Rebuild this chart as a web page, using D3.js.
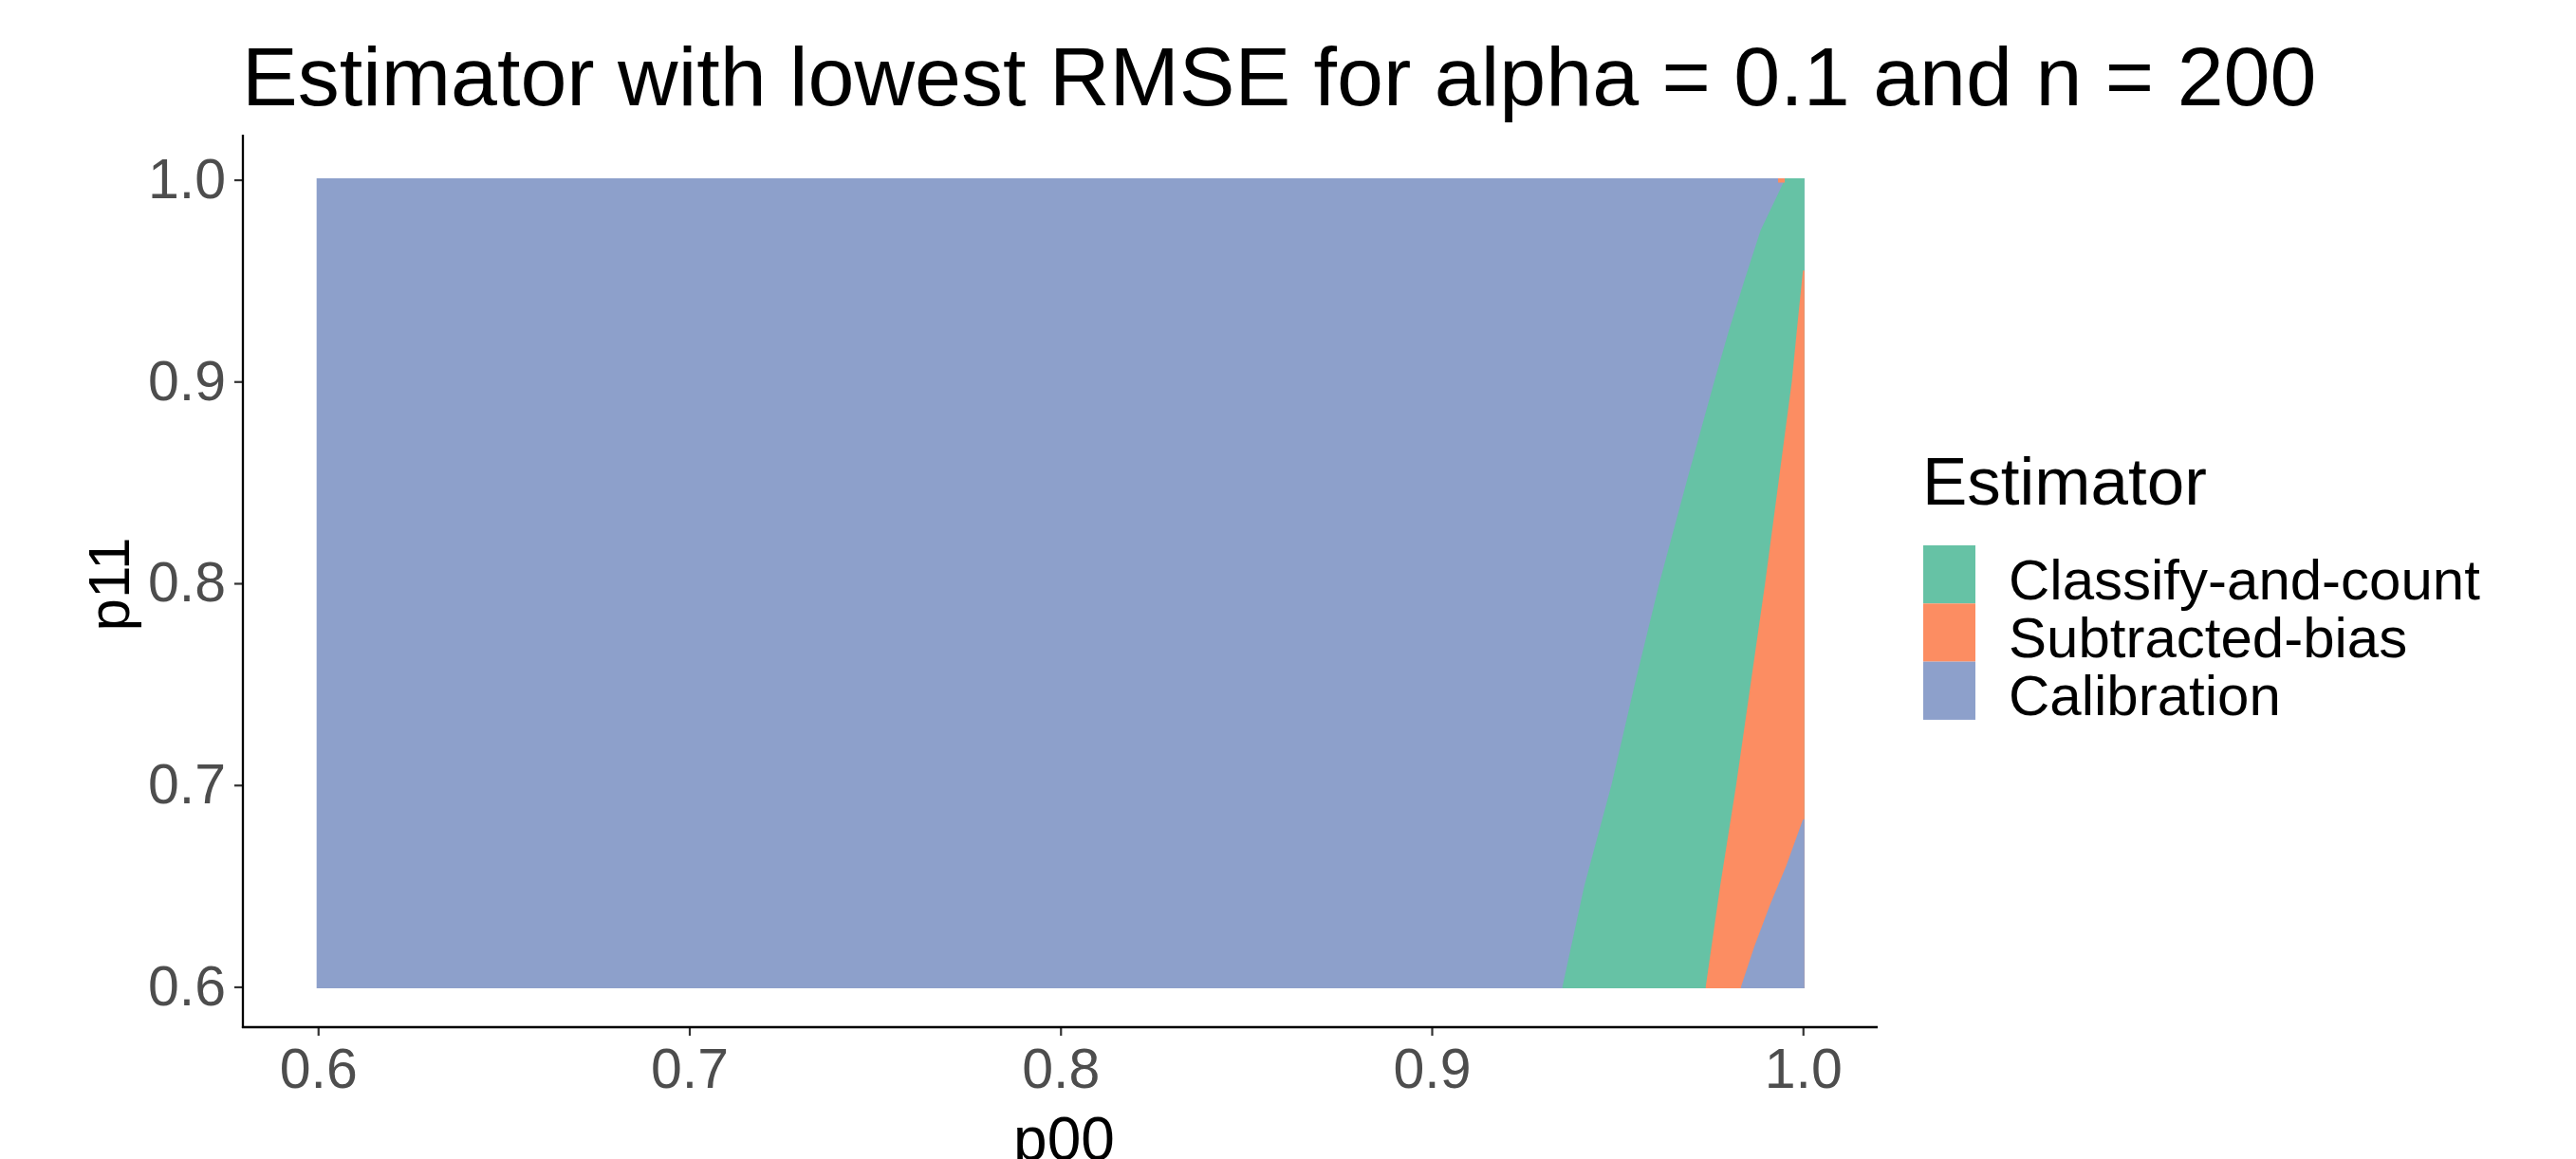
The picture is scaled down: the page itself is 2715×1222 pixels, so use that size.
<!DOCTYPE html>
<html>
<head>
<meta charset="utf-8">
<script src="https://cdn.jsdelivr.net/npm/d3@7"></script>
<style>
  html, body { margin: 0; padding: 0; background: #ffffff; }
  svg { display: block; }
  text { font-family: "Liberation Sans", Arial, "Helvetica", sans-serif; }
</style>
</head>
<body>
<svg id="chart" width="2715" height="1222"></svg>
<script>
// ---------------- data ----------------
const estimators = ["Classify-and-count", "Subtracted-bias", "Calibration"];
const estimatorColors = ["#66C2A5", "#FC8D62", "#8DA0CB"];

// grid extent of the p00 x p11 raster
const p00Range = [0.6, 1.0];
const p11Range = [0.6, 1.0];
const tileHalfP00 = 0.0004;   // half width of a raster cell
const tileHalfP11 = 0.0007;   // half height of a raster cell

// boundary Calibration | Classify-and-count (left edge of green)
const boundaryA_p11 = [0.60, 0.65, 0.70, 0.75, 0.80, 0.85, 0.90, 0.925, 0.95, 0.975, 1.00];
const boundaryA_p00 = [0.9352, 0.9411, 0.9484, 0.9547, 0.9613, 0.9686, 0.9761, 0.9800, 0.9842, 0.9886, 0.9951];

// boundary Classify-and-count | Subtracted-bias (left edge of orange)
const boundaryB_p11 = [0.60, 0.65, 0.70, 0.75, 0.80, 0.85, 0.90, 0.93, 0.955];
const boundaryB_p00 = [0.9738, 0.9777, 0.9820, 0.9859, 0.9898, 0.9934, 0.9970, 0.9986, 1.0];

// boundary Subtracted-bias | Calibration (lower right corner)
const boundaryC_p11 = [0.60, 0.62, 0.64, 0.66, 0.683];
const boundaryC_p00 = [0.9833, 0.9869, 0.9910, 0.9955, 1.0];

// single Subtracted-bias cell in the top row
const speckP00 = [0.9933, 0.9951];
const speckP11 = [0.9986, 1.0];

const xTicks = [0.6, 0.7, 0.8, 0.9, 1.0];
const yTicks = [0.6, 0.7, 0.8, 0.9, 1.0];

const titleText = "Estimator with lowest RMSE for alpha = 0.1 and n = 200";
const xTitle = "p00";
const yTitle = "p11";
const legendTitle = "Estimator";

// ---------------- layout ----------------
const svg = d3.select("#chart");
const panel = { left: 256, right: 1979, top: 143, bottom: 1083 };

const expandX = (p00Range[1] - p00Range[0]) * 0.05;
const expandY = (p11Range[1] - p11Range[0]) * 0.05;
const x = d3.scaleLinear()
  .domain([p00Range[0] - expandX, p00Range[1] + expandX])
  .range([panel.left + 1, panel.right - 0.5]);
const y = d3.scaleLinear()
  .domain([p11Range[0] - expandY, p11Range[1] + expandY])
  .range([panel.bottom, panel.top + 4]);

const line = d3.line().x(d => x(d[0])).y(d => y(d[1]));

function regionToRight(p00s, p11s, topExtend) {
  // polygon bounded on the left by the boundary and on the right by p00 = 1
  const pts = [];
  const n = p00s.length;
  pts.push([p00s[0], p11Range[0] - tileHalfP11]);
  for (let i = 0; i < n; i++) pts.push([p00s[i], p11s[i]]);
  if (topExtend) pts.push([p00s[n - 1], p11Range[1] + tileHalfP11]);
  const topP11 = topExtend ? p11Range[1] + tileHalfP11 : p11s[n - 1];
  pts.push([p00Range[1] + tileHalfP00, topP11]);
  pts.push([p00Range[1] + tileHalfP00, p11Range[0] - tileHalfP11]);
  return pts;
}

const plot = svg.append("g");

// Calibration background (whole grid)
const bg = [
  [p00Range[0] - tileHalfP00, p11Range[0] - tileHalfP11],
  [p00Range[0] - tileHalfP00, p11Range[1] + tileHalfP11],
  [p00Range[1] + tileHalfP00, p11Range[1] + tileHalfP11],
  [p00Range[1] + tileHalfP00, p11Range[0] - tileHalfP11]
];
plot.append("path").attr("d", line(bg) + "Z").attr("fill", estimatorColors[2]);

// Classify-and-count
plot.append("path")
  .attr("d", line(regionToRight(boundaryA_p00, boundaryA_p11, true)) + "Z")
  .attr("fill", estimatorColors[0]);

// Subtracted-bias
plot.append("path")
  .attr("d", line(regionToRight(boundaryB_p00, boundaryB_p11, false)) + "Z")
  .attr("fill", estimatorColors[1]);

// Calibration (lower right)
plot.append("path")
  .attr("d", line(regionToRight(boundaryC_p00, boundaryC_p11, false)) + "Z")
  .attr("fill", estimatorColors[2]);

// speck
plot.append("rect")
  .attr("x", x(speckP00[0]))
  .attr("y", y(speckP11[1] + tileHalfP11))
  .attr("width", x(speckP00[1]) - x(speckP00[0]))
  .attr("height", y(speckP11[0]) - y(speckP11[1] + tileHalfP11))
  .attr("fill", estimatorColors[1]);

// ---------------- axes ----------------
const fmt = d3.format(".1f");
const xAxis = svg.append("g")
  .attr("transform", `translate(0,${panel.bottom})`)
  .call(d3.axisBottom(x).tickValues(xTicks).tickFormat(fmt).tickSize(9).tickSizeOuter(0).tickPadding(13));
const yAxis = svg.append("g")
  .attr("transform", `translate(${panel.left},0)`)
  .call(d3.axisLeft(y).tickValues(yTicks).tickFormat(fmt).tickSize(9).tickSizeOuter(0).tickPadding(9));

[xAxis, yAxis].forEach(a => {
  a.select(".domain").remove();
  a.selectAll(".tick line").attr("stroke", "#333333").attr("stroke-width", 2.2);
  a.selectAll(".tick text")
    .attr("fill", "#4d4d4d")
    .style("font-size", "59px")
    .style("font-family", "'Liberation Sans', Arial, sans-serif");
});

// axis lines
svg.append("line")
  .attr("x1", panel.left).attr("x2", panel.left)
  .attr("y1", panel.top - 1).attr("y2", panel.bottom + 1.1)
  .attr("stroke", "#000").attr("stroke-width", 2.3);
svg.append("line")
  .attr("x1", panel.left - 1.1).attr("x2", panel.right)
  .attr("y1", panel.bottom).attr("y2", panel.bottom)
  .attr("stroke", "#000").attr("stroke-width", 2.3);

// ---------------- titles ----------------
svg.append("text")
  .attr("x", panel.left - 1)
  .attr("y", 111)
  .style("font-size", "88px")
  .attr("fill", "#000")
  .text(titleText);

svg.append("text")
  .attr("x", (panel.left + panel.right) / 2 + 4)
  .attr("y", 1223)
  .attr("text-anchor", "middle")
  .style("font-size", "64px")
  .attr("fill", "#000")
  .text(xTitle);

svg.append("text")
  .attr("transform", `translate(136,${(panel.top + panel.bottom) / 2 + 3}) rotate(-90)`)
  .attr("text-anchor", "middle")
  .style("font-size", "62px")
  .attr("fill", "#000")
  .text(yTitle);

// ---------------- legend ----------------
const legend = svg.append("g").attr("transform", "translate(2027,0)");
legend.append("text")
  .attr("x", -1)
  .attr("y", 532)
  .style("font-size", "71px")
  .attr("fill", "#000")
  .text(legendTitle);

const keyTop = 575, keyH = 61.3, keyW = 55;
const items = legend.selectAll("g.item").data(estimators).enter().append("g")
  .attr("class", "item")
  .attr("transform", (d, i) => `translate(0,${keyTop + i * keyH})`);
items.append("rect")
  .attr("width", keyW).attr("height", keyH)
  .attr("fill", (d, i) => estimatorColors[i]);
items.append("text")
  .attr("x", 90)
  .attr("y", 56.5)
  .style("font-size", "60px")
  .attr("fill", "#000")
  .text(d => d);
</script>
</body>
</html>
